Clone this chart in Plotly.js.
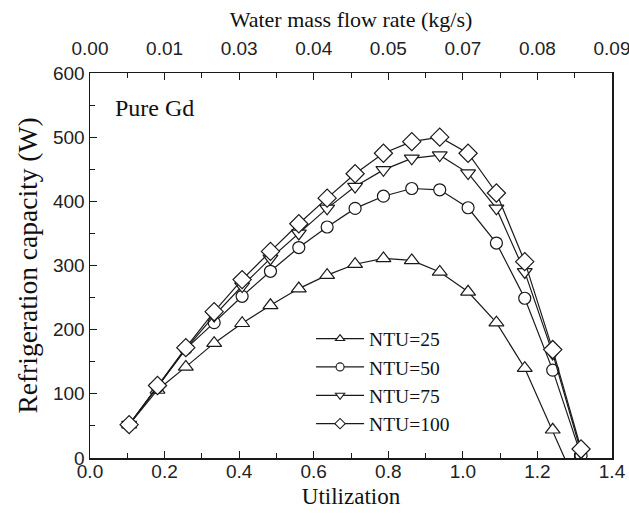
<!DOCTYPE html>
<html>
<head>
<meta charset="utf-8">
<script src="https://cdn.plot.ly/plotly-3.0.1.min.js"></script>
<style>
html,body{margin:0;padding:0;background:#fff;}
#chart{width:629px;height:516px;}
</style>
</head>
<body>
<div id="chart"></div>
<script>
// Utilization values (bottom axis)
var utilization = [0.105, 0.181, 0.257, 0.333, 0.408, 0.484, 0.560, 0.636, 0.711, 0.787, 0.863, 0.938, 1.014, 1.090, 1.166, 1.241, 1.317];
// Refrigeration capacity (W)
var ntu25  = [52, 106, 142, 179, 210, 238, 264, 285, 302, 311, 308, 290, 259, 211, 140, 44, -58];
var ntu50  = [52, 111, 170, 211, 252, 291, 328, 360, 389, 408, 420, 418, 390, 335, 249, 137, 4];
var ntu75  = [52, 111, 170, 222, 268, 311, 350, 389, 423, 449, 467, 472, 444, 389, 290, 163, 9];
var ntu100 = [52, 113, 172, 228, 278, 322, 365, 405, 443, 475, 493, 500, 475, 413, 306, 169, 14];
var seriesNames = ["NTU=25", "NTU=50", "NTU=75", "NTU=100"];
var seriesSymbols = ["triangle-up", "circle", "triangle-down", "diamond"];
// Axis ticks
var bottomTicks = [0.0, 0.2, 0.4, 0.6, 0.8, 1.0, 1.2, 1.4];
var bottomTickText = ["0.0", "0.2", "0.4", "0.6", "0.8", "1.0", "1.2", "1.4"];
var topTickText = ["0.00", "0.01", "0.03", "0.04", "0.05", "0.07", "0.08", "0.09"];

var ink = "#1a1a1a";
var allY = [ntu25, ntu50, ntu75, ntu100];
var plotSizes = [13, 12, 13, 14];
var traces = [];
// data traces (legend drawn by small-marker legend entries below)
allY.forEach(function (y, i) {
  traces.push({
    x: utilization, y: y, name: seriesNames[i], legendgroup: seriesNames[i], showlegend: false,
    type: "scatter", mode: "lines+markers",
    line: {color: ink, width: 1.2},
    marker: {symbol: seriesSymbols[i], size: plotSizes[i], color: "#ffffff", line: {color: ink, width: 1.2}},
    cliponaxis: true
  });
});
// legend-only entries with the smaller symbols seen in the reference legend (point lies off the axes, clipped)
allY.forEach(function (y, i) {
  traces.push({
    x: [-1], y: [-1000], name: seriesNames[i], legendgroup: seriesNames[i], showlegend: true,
    type: "scatter", mode: "lines+markers", cliponaxis: true, hoverinfo: "skip",
    line: {color: ink, width: 1.2},
    marker: {symbol: seriesSymbols[i], size: 8, color: "#ffffff", line: {color: ink, width: 1.1}}
  });
});
traces.push({x: [bottomTicks[0], bottomTicks[bottomTicks.length-1]], y: [-100, -100], xaxis: "x2", mode: "markers",
   marker: {opacity: 0}, showlegend: false, hoverinfo: "skip"});

var tickFont = {family: "Liberation Sans", size: 19, color: "#222"};
var serif = "Liberation Serif";
var layout = {
  width: 629, height: 516,
  font: {family: serif, color: "#111"},
  margin: {l: 90, r: 17, t: 73, b: 58},
  paper_bgcolor: "#fff", plot_bgcolor: "#fff",
  showlegend: true,
  legend: {x: 0.4235, y: 0.36, xanchor: "left", yanchor: "top", bgcolor: "rgba(0,0,0,0)",
           font: {family: serif, size: 19.5, color: "#111"}, itemwidth: 48, tracegroupgap: 0},
  xaxis: {
    range: [0, 1.4], tickvals: bottomTicks, ticktext: bottomTickText,
    ticks: "inside", ticklen: 7, tickwidth: 1, tickcolor: ink,
    minor: {dtick: 0.1, tick0: 0, ticks: "inside", ticklen: 5, tickcolor: ink},
    showline: true, linecolor: ink, linewidth: 1.5, showgrid: false, zeroline: false,
    tickfont: tickFont, ticklabeloverflow: "allow", ticklabelstandoff: -4,
    title: {text: "Utilization", font: {family: serif, size: 23, color: "#111"}, standoff: 6}
  },
  xaxis2: {
    overlaying: "x", side: "top", anchor: "y",
    range: [0, 1.4], tickvals: bottomTicks, ticktext: topTickText,
    ticks: "inside", ticklen: 7, tickwidth: 1, tickcolor: ink,
    minor: {dtick: 0.1, tick0: 0, ticks: "inside", ticklen: 5, tickcolor: ink},
    showline: true, linecolor: ink, linewidth: 1.5, showgrid: false, zeroline: false,
    tickfont: tickFont, ticklabeloverflow: "allow", ticklabelstandoff: 9,
    title: {text: "Water mass flow rate (kg/s)", font: {family: serif, size: 22, color: "#111"}, standoff: 4}
  },
  yaxis: {
    range: [0, 600], dtick: 100, tick0: 0,
    ticks: "inside", ticklen: 7, tickwidth: 1, tickcolor: ink,
    minor: {dtick: 50, ticks: "inside", ticklen: 5, tickcolor: ink},
    showline: true, mirror: true, linecolor: ink, linewidth: 1.5, showgrid: false, zeroline: false,
    tickfont: tickFont,
    title: {text: "Refrigeration capacity (W)", font: {family: serif, size: 27.5, color: "#111"}, standoff: 7}
  },
  annotations: [{
    text: "Pure Gd", xref: "paper", yref: "paper", x: 0.044, y: 0.909,
    xanchor: "left", yanchor: "middle", showarrow: false,
    font: {family: serif, size: 24, color: "#111"}
  }]
};
Plotly.newPlot("chart", traces, layout, {displayModeBar: false, staticPlot: true});
</script>
</body>
</html>
